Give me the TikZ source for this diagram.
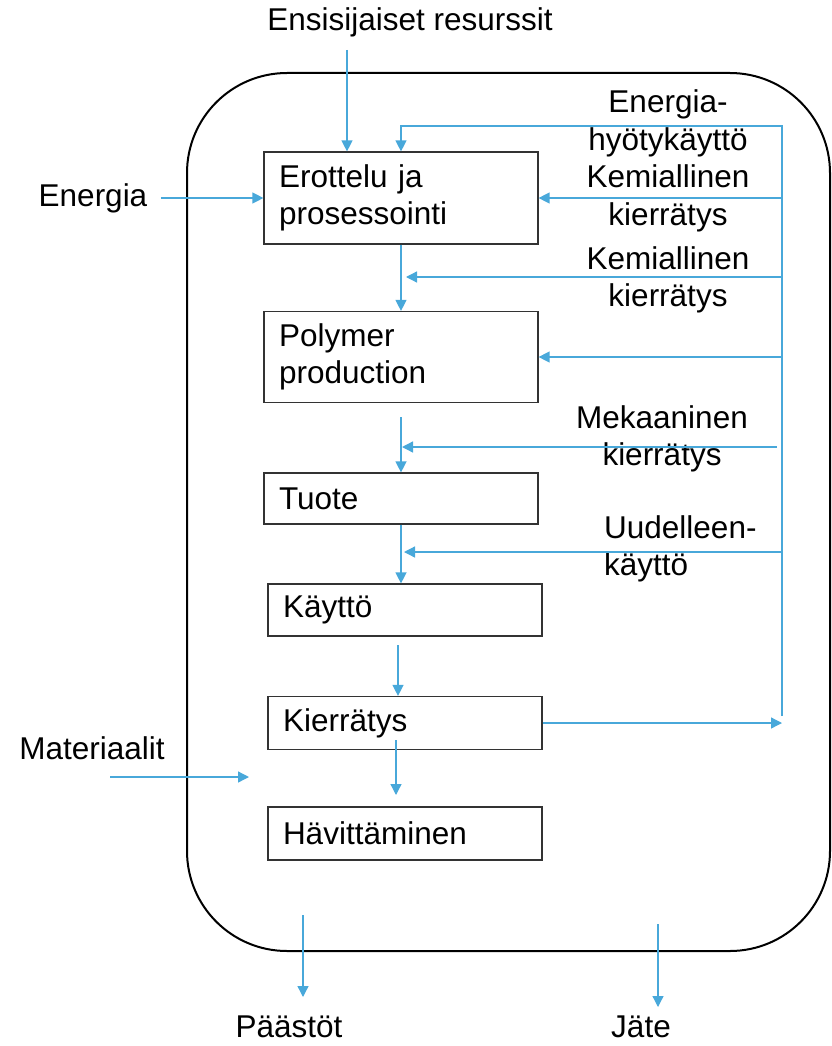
\documentclass[tikz,border=0pt]{standalone}
\usepackage{fontspec}
\setmainfont{Liberation Sans}
\usetikzlibrary{arrows.meta,positioning}
\definecolor{flowblue}{RGB}{72,168,218}

\begin{document}
\begin{tikzpicture}[x=1pt,y=-1pt,>={Triangle[length=11pt,width=11pt]},
                    every node/.style={font=\fontsize{31.5}{37.5}\selectfont},
                    box node/.style={draw=black!80,line width=1.2pt,text width=244pt,
                                     inner xsep=15pt,inner ysep=0pt,align=left},
                    flow/.style={->,flowblue,line width=1.3pt}]

  \useasboundingbox (0,0) rectangle (831,1046);

  % system boundary
  \draw[line width=2pt,rounded corners=100pt] (187,73) rectangle (830,951);

  % process chain
  \node[box node,minimum height=92pt] (erottelu) at (401,198) {Erottelu ja\\prosessointi};
  \node[box node,minimum height=91pt] (polymer) at (401,357) {Polymer\\production};
  \node[box node,minimum height=51pt] (tuote) at (401,498.5) {Tuote};
  \node[box node,minimum height=52pt] (kaytto) at (405,610) {Käyttö};
  \node[box node,minimum height=53pt] (kierratys) at (405,723) {Kierrätys};
  \node[box node,minimum height=53pt] (havittaminen) at (405,833.5) {Hävittäminen};

  % outside flows
  \node (ensi) at (410,22) {Ensisijaiset resurssit};
  \node (energia) at (93,198) {Energia};
  \node (materiaalit) at (92,748) {Materiaalit};
  \node (paastot) at (289,1027) {Päästöt};
  \node (jate) at (641,1027) {Jäte};

  % loop labels
  \node[align=center] (energiahyoty) at (668,161) {Energia-\\hyötykäyttö\\Kemiallinen\\kierrätys};
  \node[align=center] (kemiallinen) at (668,280) {Kemiallinen\\kierrätys};
  \node[align=center] (mekaaninen) at (662,439) {Mekaaninen\\kierrätys};
  \node[align=left,anchor=west,inner sep=0pt] (uudelleen) at (604,549) {Uudelleen-\\käyttö};

  \coordinate (bustop) at (782,126);
  \coordinate (busbot) at (782,716);
  \coordinate (ensiin) at (347,50);
  \coordinate (kemtip) at (406,277);
  \coordinate (mekin) at (777,447);
  \coordinate (mektip) at (402,447);
  \coordinate (uudtip) at (404,552);
  \coordinate (kayttoout) at (398,645);
  \coordinate (kierout) at (396,740);
  \coordinate (havin) at (396,795);
  \coordinate (matin) at (110,777);
  \coordinate (matend) at (249,777);
  \coordinate (paastoin) at (303,915);
  \coordinate (paastoout) at (303,997);
  \coordinate (jatein) at (658,924);
  \coordinate (jateout) at (658,1007);

  \draw[flow] (ensiin) -- (ensiin |- erottelu.north);
  \draw[flow] ([xshift=10pt]energia.east) -- (erottelu.west);
  \draw[flow] (busbot) -- (bustop) -| (erottelu.north);
  \draw[flow] (bustop |- erottelu.east) -- (erottelu.east);
  \draw[flow] (erottelu.south) -- (polymer.north);
  \draw[flow] (bustop |- kemtip) -- (kemtip);
  \draw[flow] (bustop |- polymer.east) -- (polymer.east);
  \draw[flow] ([yshift=-14pt]polymer.south) -- (tuote.north);
  \draw[flow] (mekin) -- (mektip);
  \draw[flow] (tuote.south) -- (tuote.south |- kaytto.north);
  \draw[flow] (bustop |- uudtip) -- (uudtip);
  \draw[flow] (kayttoout) -- (kayttoout |- kierratys.north);
  \draw[flow] (kierratys.east) -- (busbot |- kierratys.east);
  \draw[flow] (kierout) -- (havin);
  \draw[flow] (matin) -- (matend);
  \draw[flow] (paastoin) -- (paastoout);
  \draw[flow] (jatein) -- (jateout);
\end{tikzpicture}
\end{document}
